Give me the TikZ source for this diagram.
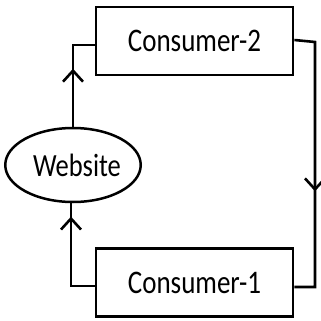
\documentclass[tikz,border=0pt]{standalone}
\usepackage{fontspec}
\setmainfont{Carlito}
\usetikzlibrary{arrows.meta,decorations.markings,shapes.geometric}
\begin{document}
\begin{tikzpicture}[x=1pt,y=-1pt,
  boxnode/.style={draw,line width=2.8pt,minimum width=197pt,minimum height=68pt,inner sep=0pt,
    font=\fontsize{27}{27}\selectfont},
  ovalnode/.style={draw,ellipse,line width=2.5pt,minimum width=130pt,minimum height=74pt,inner sep=0pt,
    font=\fontsize{26.5}{26.5}\selectfont},
  link/.style={line width=2.6pt},
  barb/.style={postaction={decorate,decoration={markings,
    mark=at position #1 with {\arrow[line width=2.6pt]{Straight Barb[length=11pt,width=20pt]}}}}}
]
\useasboundingbox (0,0) rectangle (321,321);
\node[boxnode] (c2) at (194.5,41) {\scalebox{1}[1.22]{Consumer-2}};
\node[boxnode] (c1) at (194.5,282.5) {\scalebox{1}[1.22]{Consumer-1}};
\node[ovalnode] (web) at (73,165) {\hspace{8pt}\scalebox{1}[1.22]{Website}};
\coordinate (tl) at (73,45);
\coordinate (tr) at (315,42);
\coordinate (br) at (315,287);
\coordinate (bl) at (71,286);
\draw[link,barb=58pt] (web.north) -- (tl) -- ([yshift=-4pt]c2.west);
\draw[link,barb=170pt] ([yshift=1pt]c2.east) -- (tr) -- (br) -- ([yshift=-4.5pt]c1.east);
\draw[link,barb=93pt] ([yshift=-3.5pt]c1.west) -- (bl) -- ([xshift=-2pt]web.south);
\end{tikzpicture}
\end{document}
